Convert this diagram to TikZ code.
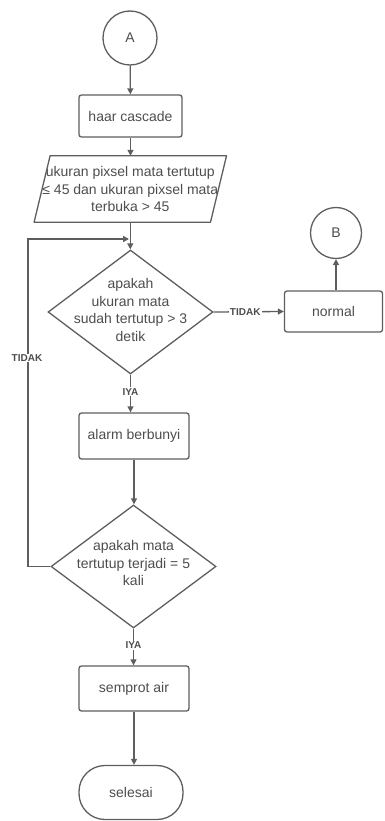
\documentclass[tikz,border=0pt]{standalone}
\usepackage{fontspec}
\setmainfont{Liberation Sans}
\usetikzlibrary{shapes.geometric,arrows.meta,calc}
\definecolor{strk}{HTML}{5E5E5E}
\definecolor{txtc}{HTML}{4D4D4D}
\tikzset{
  base/.style={draw=strk, line width=1.3pt, text=txtc, font=\fontsize{14}{17}\selectfont, align=center, inner sep=0pt},
  procbox/.style={base, rectangle, rounded corners=2.5pt},
  conn/.style={base, circle},
  dia/.style={base, diamond},
  txt/.style={text=txtc, font=\fontsize{14}{17.5}\selectfont, align=center, inner sep=0pt},
  lbl/.style={fill=white, text=txtc, font=\fontsize{10}{11}\selectfont\bfseries, inner sep=1pt},
  arr/.style={draw=strk, line width=1.3pt, -{Triangle[width=6pt,length=6pt]}},
  ln/.style={draw=strk, line width=1.3pt}
}
\begin{document}
\begin{tikzpicture}[x=1pt,y=-1pt]
\useasboundingbox (0,0) rectangle (384,821);
\node[conn, minimum size=54pt] (A) at (130,38) {A};
\node[procbox, minimum width=103pt, minimum height=42pt] (haar) at (130.5,116) {haar cascade};
\node[txt, minimum width=176pt, minimum height=66pt] (p) at (130.3,189) {ukuran pixsel mata tertutup\\≤ 45 dan ukuran pixsel mata\\terbuka > 45};
\draw[ln, line join=round] ($(p.north west)+(8,0)$) -- ($(p.north east)+(8,0)$) -- ($(p.south east)+(-8,0)$) -- ($(p.south west)+(-8,0)$) -- cycle;
\node[dia, minimum width=165pt, minimum height=124pt] (d1) at (130.5,312) {};
\node[txt] (d1t) at (130.5,310) {apakah\\ukuran mata\\sudah tertutup > 3\\detik};
\node[procbox, minimum width=98pt, minimum height=41pt] (normal) at (333.5,311.5) {normal};
\node[conn, minimum size=51pt] (B) at (336,233) {B};
\node[procbox, minimum width=110pt, minimum height=46pt] (alarm) at (134,436) {alarm berbunyi};
\node[dia, minimum width=165pt, minimum height=123pt] (d2) at (133.5,566.5) {};
\node[txt] (d2t) at (133.5,563) {apakah mata\\tertutup terjadi = 5\\kali};
\node[procbox, minimum width=110pt, minimum height=45pt] (semprot) at (134,688.5) {semprot air};
\node[procbox, rounded corners=26pt, minimum width=104pt, minimum height=54pt] (selesai) at (131,792.5) {selesai};
\coordinate (lp1) at (28,566.5);
\coordinate (lp2) at (28,239);
\coordinate (lp3) at (129,239);
% connectors
\draw[arr] (A) -- (haar);
\draw[arr] (haar.south) -- (haar.south |- p.north);
\draw[arr] (p.south) -- (p.south |- d1.north);
\draw[arr] (d2.west) -- (lp1) -- (lp2) -- (lp3);
\node[lbl] at (27,358) {TIDAK};
\draw[arr] (d1.east) -- node[lbl, pos=0.45] {TIDAK} (normal.west);
\draw[arr] (normal.north -| B.south) -- (B.south);
\draw[arr] (d1.south) -- node[lbl, pos=0.45] {IYA} (d1.south |- alarm.north);
\draw[arr] (alarm.south) -- (alarm.south |- d2.north);
\draw[arr] (d2.south) -- node[lbl, pos=0.45] {IYA} (d2.south |- semprot.north);
\draw[arr] (semprot.south) -- (semprot.south |- selesai.north);
\end{tikzpicture}
\end{document}
